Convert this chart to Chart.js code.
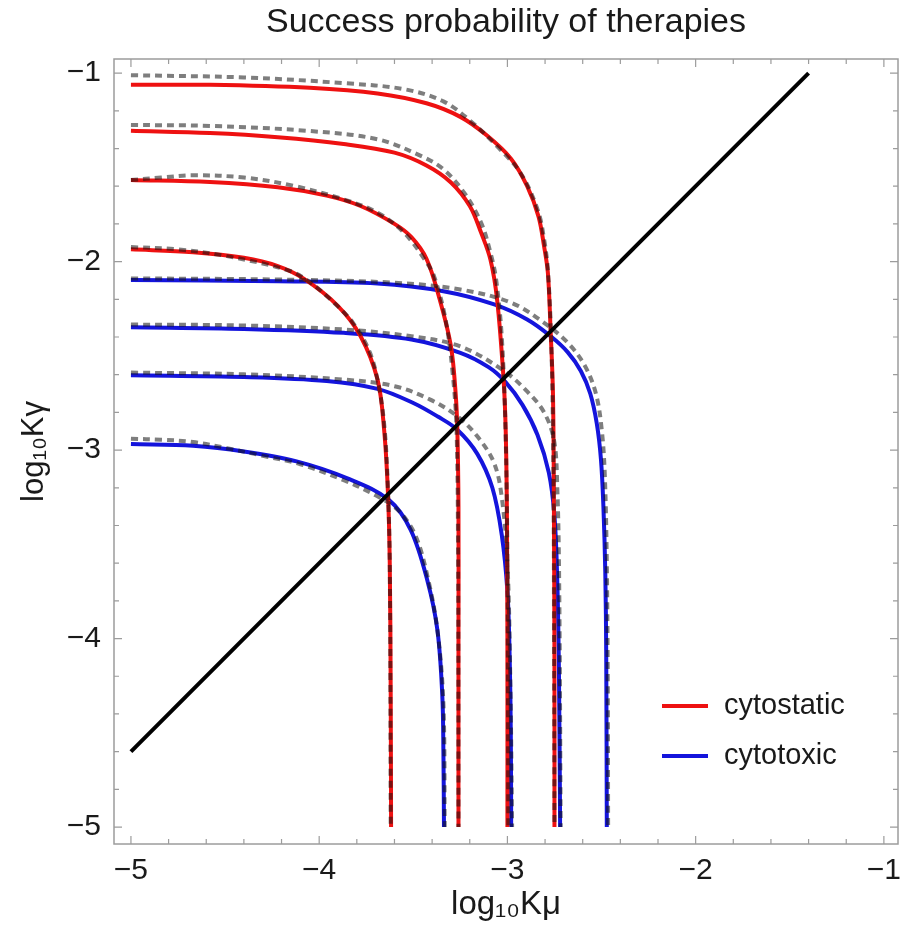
<!DOCTYPE html>
<html>
<head>
<meta charset="utf-8">
<title>Success probability of therapies</title>
<script src="https://cdn.jsdelivr.net/npm/chart.js@4.4.1/dist/chart.umd.min.js"></script>
<style>
  html, body { margin: 0; padding: 0; background: #fff; }
</style>
</head>
<body>
<canvas id="therapyChart" width="905" height="945"></canvas>
<script>
// axis range (log10 values) and tick spacing
const axisMin = -5.09;
const axisMax = -0.925;
const tickStep = 0.2;

// black reference line (Kmu = Kgamma)
const diagonal = [[-5.0, -4.6], [-1.4, -1.0]];

// cytostatic curves (red)
const cytostatic1 = [[-5.0, -1.062], [-4.58, -1.062], [-4.05, -1.078], [-3.69, -1.108], [-3.43, -1.16], [-3.25, -1.232], [-3.11, -1.33], [-2.98, -1.455], [-2.895, -1.6], [-2.835, -1.76], [-2.805, -1.92], [-2.785, -2.06], [-2.77, -2.38], [-2.758, -2.7], [-2.753, -3.3], [-2.75, -4.2], [-2.75, -5.0]];
const cytostatic2 = [[-5.0, -1.306], [-4.58, -1.318], [-4.22, -1.34], [-3.87, -1.376], [-3.6, -1.422], [-3.43, -1.49], [-3.3, -1.58], [-3.2, -1.705], [-3.14, -1.846], [-3.09, -1.99], [-3.055, -2.2], [-3.02, -2.63], [-3.009, -2.9], [-3.003, -3.3], [-3.0, -4.0], [-3.0, -5.0]];
const cytostatic3 = [[-5.0, -1.567], [-4.58, -1.578], [-4.22, -1.606], [-3.96, -1.65], [-3.78, -1.705], [-3.6, -1.8], [-3.51, -1.87], [-3.43, -1.985], [-3.36, -2.2], [-3.3, -2.45], [-3.275, -2.7], [-3.266, -2.892], [-3.26, -3.3], [-3.26, -4.0], [-3.26, -5.0]];
const cytostatic4 = [[-5.0, -1.935], [-4.67, -1.95], [-4.4, -1.98], [-4.22, -2.024], [-4.08, -2.092], [-3.9, -2.236], [-3.78, -2.396], [-3.69, -2.626], [-3.655, -2.892], [-3.635, -3.22], [-3.625, -3.6], [-3.62, -4.3], [-3.618, -5.0]];

// cytotoxic curves (blue)
const cytotoxic1 = [[-5.0, -2.098], [-4.22, -2.104], [-3.69, -2.116], [-3.34, -2.157], [-3.07, -2.227], [-2.895, -2.307], [-2.77, -2.396], [-2.68, -2.48], [-2.61, -2.58], [-2.56, -2.7], [-2.525, -2.86], [-2.503, -3.05], [-2.49, -3.3], [-2.48, -3.65], [-2.475, -4.1], [-2.472, -5.0]];
const cytotoxic2 = [[-5.0, -2.348], [-4.4, -2.357], [-3.87, -2.378], [-3.51, -2.413], [-3.25, -2.484], [-3.1, -2.56], [-3.012, -2.637], [-2.92, -2.76], [-2.84, -2.92], [-2.78, -3.12], [-2.75, -3.35], [-2.735, -3.7], [-2.726, -4.2], [-2.72, -5.0]];
const cytotoxic3 = [[-5.0, -2.603], [-4.4, -2.612], [-3.96, -2.633], [-3.69, -2.675], [-3.5, -2.75], [-3.37, -2.822], [-3.266, -2.892], [-3.16, -3.02], [-3.08, -3.2], [-3.03, -3.45], [-3.0, -3.75], [-2.988, -4.1], [-2.982, -4.5], [-2.98, -5.0]];
const cytotoxic4 = [[-5.0, -2.968], [-4.67, -2.977], [-4.4, -3.007], [-4.12, -3.06], [-3.85, -3.15], [-3.63, -3.264], [-3.514, -3.423], [-3.426, -3.689], [-3.372, -3.954], [-3.346, -4.3], [-3.34, -4.6], [-3.337, -5.0]];

// gray dashed approximations
const fitStatic1 = [[-5.0, -1.011], [-4.4, -1.023], [-3.87, -1.053], [-3.55, -1.085], [-3.34, -1.15], [-3.195, -1.255], [-3.053, -1.39], [-2.93, -1.53], [-2.84, -1.723], [-2.805, -1.882], [-2.784, -2.059], [-2.765, -2.5], [-2.755, -3.2], [-2.752, -4.2], [-2.75, -5.0]];
const fitStatic2 = [[-5.0, -1.275], [-4.58, -1.28], [-4.05, -1.307], [-3.69, -1.351], [-3.46, -1.439], [-3.34, -1.51], [-3.23, -1.634], [-3.14, -1.793], [-3.09, -1.953], [-3.06, -2.095], [-3.03, -2.4], [-3.01, -2.9], [-3.0, -3.6], [-2.995, -5.0]];
const fitStatic3 = [[-5.0, -1.567], [-4.84, -1.554], [-4.67, -1.542], [-4.4, -1.554], [-4.13, -1.599], [-3.87, -1.67], [-3.69, -1.74], [-3.55, -1.846], [-3.44, -1.988], [-3.39, -2.077], [-3.33, -2.3], [-3.29, -2.6], [-3.27, -2.9], [-3.262, -3.6], [-3.26, -5.0]];
const fitStatic4 = [[-5.0, -1.923], [-4.755, -1.935], [-4.49, -1.971], [-4.153, -2.05], [-4.046, -2.112], [-3.94, -2.201], [-3.82, -2.325], [-3.73, -2.484], [-3.68, -2.679], [-3.652, -2.892], [-3.635, -3.2], [-3.625, -3.6], [-3.62, -5.0]];
const fitToxic1 = [[-5.0, -2.089], [-4.22, -2.095], [-3.6, -2.112], [-3.25, -2.148], [-2.98, -2.218], [-2.805, -2.325], [-2.68, -2.43], [-2.59, -2.55], [-2.53, -2.7], [-2.498, -2.9], [-2.482, -3.15], [-2.472, -3.6], [-2.467, -4.2], [-2.465, -5.0]];
const fitToxic2 = [[-5.0, -2.334], [-4.4, -2.339], [-3.87, -2.36], [-3.51, -2.396], [-3.25, -2.45], [-3.018, -2.58], [-2.894, -2.69], [-2.805, -2.8], [-2.752, -2.95], [-2.735, -3.2], [-2.725, -3.7], [-2.717, -5.0]];
const fitToxic3 = [[-5.0, -2.589], [-4.4, -2.598], [-3.87, -2.626], [-3.6, -2.661], [-3.41, -2.732], [-3.266, -2.821], [-3.16, -2.927], [-3.071, -3.068], [-3.03, -3.25], [-3.0, -3.6], [-2.985, -4.2], [-2.975, -5.0]];
const fitToxic4 = [[-5.0, -2.94], [-4.84, -2.945], [-4.67, -2.957], [-4.49, -2.99], [-4.3, -3.03], [-4.1, -3.075], [-3.87, -3.16], [-3.7, -3.24], [-3.58, -3.32], [-3.49, -3.45], [-3.42, -3.69], [-3.37, -3.97], [-3.34, -4.35], [-3.333, -5.0]];

const legendLabels = ['cytostatic', 'cytotoxic'];

const RED = '#ee1111';
const BLUE = '#1414dc';
const DASH = 'rgba(20, 20, 20, 0.55)';
const FONT = "'Liberation Sans', Arial, sans-serif";

const toPoints = pairs => pairs.map(([x, y]) => ({ x, y }));

function line(label, pairs, color, order, dashed) {
    return {
        label: label,
        data: toPoints(pairs),
        showLine: true,
        borderColor: color,
        backgroundColor: color,
        borderWidth: 4,
        borderDash: dashed ? [7, 5] : [],
        pointRadius: 0,
        tension: pairs.length > 2 ? 0.35 : 0,
        fill: false,
        order: order
    };
}

const datasets = [
    line('diagonal', diagonal, '#000000', 0, false),
    ...[fitStatic1, fitStatic2, fitStatic3, fitStatic4, fitToxic1, fitToxic2, fitToxic3, fitToxic4]
        .map((d, i) => line('approx ' + (i + 1), d, DASH, 1, true)),
    ...[cytostatic1, cytostatic2, cytostatic3, cytostatic4]
        .map((d, i) => line(legendLabels[0] + ' ' + (i + 1), d, RED, 2, false)),
    ...[cytotoxic1, cytotoxic2, cytotoxic3, cytotoxic4]
        .map((d, i) => line(legendLabels[1] + ' ' + (i + 1), d, BLUE, 2, false))
];

const isWhole = v => Math.abs(v - Math.round(v)) < 1e-6;
const fmt = v => {
    const r = Math.round(v);
    return r < 0 ? '\u2212' + Math.abs(r) : String(r);
};

// frame with inward ticks on all four sides
const frameTicks = {
    id: 'frameTicks',
    afterDraw(chart) {
        const { ctx, chartArea: a, scales } = chart;
        ctx.save();
        ctx.strokeStyle = '#9c9c9c';
        ctx.lineWidth = 1.5;
        ctx.strokeRect(a.left, a.top, a.right - a.left, a.bottom - a.top);
        ctx.lineWidth = 1.2;
        ctx.beginPath();
        scales.x.ticks.forEach(t => {
            const px = scales.x.getPixelForValue(t.value);
            const len = isWhole(t.value) ? 8 : 5;
            ctx.moveTo(px, a.bottom); ctx.lineTo(px, a.bottom - len);
            ctx.moveTo(px, a.top); ctx.lineTo(px, a.top + len);
        });
        scales.y.ticks.forEach(t => {
            const py = scales.y.getPixelForValue(t.value);
            const len = isWhole(t.value) ? 8 : 5;
            ctx.moveTo(a.left, py); ctx.lineTo(a.left + len, py);
            ctx.moveTo(a.right, py); ctx.lineTo(a.right - len, py);
        });
        ctx.stroke();
        ctx.restore();
    }
};

// legend box in the lower right of the plot
const insideLegend = {
    id: 'insideLegend',
    afterDraw(chart) {
        const { ctx, chartArea: a } = chart;
        const colors = [RED, BLUE];
        ctx.save();
        ctx.font = '29px ' + FONT;
        ctx.textBaseline = 'middle';
        legendLabels.forEach((txt, i) => {
            const y = a.bottom - 138 + i * 50;
            const x0 = a.right - 236;
            ctx.strokeStyle = colors[i];
            ctx.lineWidth = 4;
            ctx.beginPath();
            ctx.moveTo(x0, y);
            ctx.lineTo(x0 + 46, y);
            ctx.stroke();
            ctx.fillStyle = '#1a1a1a';
            ctx.fillText(txt, x0 + 62, y);
        });
        ctx.restore();
    }
};

new Chart(document.getElementById('therapyChart'), {
    type: 'scatter',
    data: { datasets: datasets },
    options: {
        responsive: false,
        animation: false,
        devicePixelRatio: 1,
        layout: { padding: { top: 0, right: 7, bottom: 0, left: 0 } },
        plugins: {
            legend: { display: false },
            tooltip: { enabled: false },
            title: {
                display: true,
                fullSize: false,
                text: 'Success probability of therapies',
                color: '#1a1a1a',
                font: { family: FONT, size: 34, weight: 'normal', lineHeight: 1.2 },
                padding: { top: 2, bottom: 16.2 }
            }
        },
        scales: {
            x: {
                type: 'linear',
                min: axisMin,
                max: axisMax,
                grid: { display: false, drawTicks: false },
                border: { display: false },
                ticks: {
                    stepSize: tickStep,
                    includeBounds: false,
                    autoSkip: false,
                    maxRotation: 0,
                    padding: 9,
                    color: '#1a1a1a',
                    font: { family: FONT, size: 30 },
                    callback: v => isWhole(v) ? fmt(v) : ''
                },
                title: {
                    display: true,
                    text: 'log\u2081\u2080K\u03bc',
                    color: '#1a1a1a',
                    font: { family: FONT, size: 33, lineHeight: 1.2 },
                    padding: { top: 0, bottom: 20 }
                },
                afterFit(scale) {
                    scale.height = 101;
                    scale.paddingLeft = 0;
                    scale.paddingRight = 0;
                }
            },
            y: {
                type: 'linear',
                min: axisMin,
                max: axisMax,
                grid: { display: false, drawTicks: false },
                border: { display: false },
                ticks: {
                    stepSize: tickStep,
                    includeBounds: false,
                    autoSkip: false,
                    padding: 13,
                    color: '#1a1a1a',
                    font: { family: FONT, size: 30 },
                    callback: v => isWhole(v) ? fmt(v) : ''
                },
                title: {
                    display: true,
                    text: 'log\u2081\u2080K\u03b3',
                    color: '#1a1a1a',
                    font: { family: FONT, size: 31, lineHeight: 1.2 },
                    padding: { top: 16, bottom: 0 }
                },
                afterFit(scale) {
                    scale.width = 114;
                    scale.paddingTop = 0;
                    scale.paddingBottom = 0;
                }
            }
        }
    },
    plugins: [frameTicks, insideLegend]
});
</script>
</body>
</html>
